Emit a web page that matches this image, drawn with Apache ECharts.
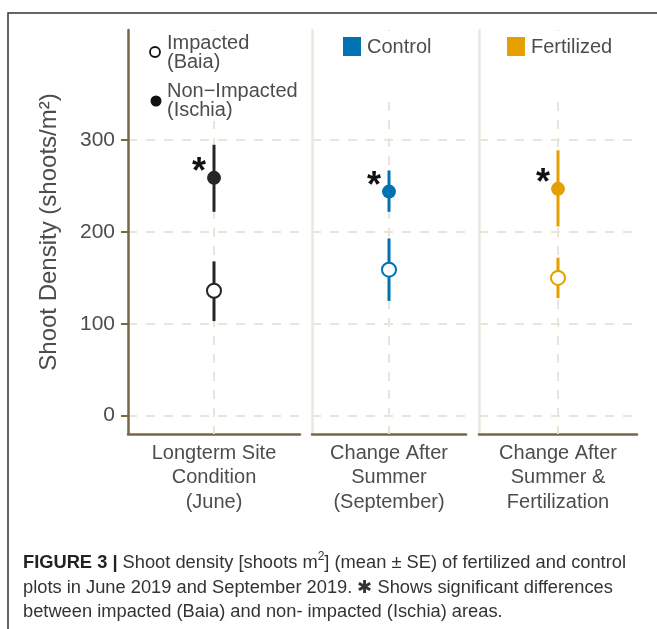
<!DOCTYPE html>
<html>
<head>
<meta charset="utf-8">
<script src="https://cdn.jsdelivr.net/npm/echarts@6/dist/echarts.min.js"></script>
<style>
html,body{margin:0;padding:0;background:#fff;}
#chart{width:657px;height:629px;}
</style>
</head>
<body>
<div id="chart"></div>
<script>
// ---- data ----
const categories = ['Longterm Site\nCondition\n(June)', 'Change After\nSummer\n(September)', 'Change After\nSummer &\nFertilization'];
const panelColors = ['#262626', '#0072B2', '#E69F00'];
const impactedMean = [136, 159, 150];
const impactedLow = [103, 125, 128];
const impactedHigh = [168, 193, 172];
const nonImpactedMean = [259, 244, 247];
const nonImpactedLow = [222, 222, 206];
const nonImpactedHigh = [295, 267, 289];
const significant = ['*', '*', '*'];
const yTicks = [0, 100, 200, 300];
const yMin = -20, yMax = 420;

const AXIS = '#7B6549';
const GRID = '#EDE4D9';
const TXT = '#4D4D4D';
const FONT = '"Liberation Sans", Arial, sans-serif';

const gridBoxes = [
  {left: 128, right: 657 - 300},
  {left: 312, right: 657 - 466},
  {left: 479, right: 657 - 637}
];

const grids = [], xAxes = [], yAxes = [], series = [];
gridBoxes.forEach((g, i) => {
  grids.push({left: g.left, right: g.right, top: 30, bottom: 629 - 434, containLabel: false});
  xAxes.push({
    type: 'category', gridIndex: i, data: [categories[i]],
    axisLine: {onZero: false, lineStyle: {color: AXIS, width: 2.5}},
    axisTick: {alignWithLabel: true, length: 7, lineStyle: {color: AXIS, width: 2}},
    axisLabel: {color: TXT, fontSize: 20, lineHeight: 24.5, margin: 7, fontFamily: FONT},
    splitLine: {show: false}
  });
  yAxes.push({
    type: 'value', gridIndex: i, min: yMin, max: yMax,
    name: i === 0 ? 'Shoot Density (shoots/m²)' : '',
    nameLocation: 'middle', nameGap: 67, nameRotate: 90,
    nameTextStyle: {color: TXT, fontSize: 24, fontFamily: FONT},
    axisLine: {show: true, lineStyle: {color: i === 0 ? AXIS : '#EEE7DE', width: 2.5}},
    axisTick: {show: i === 0, length: 7, customValues: yTicks, lineStyle: {color: AXIS, width: 2}},
    axisLabel: {show: i === 0, customValues: yTicks, color: TXT, fontSize: 21, margin: 13, fontFamily: FONT},
    splitLine: {show: true, lineStyle: {color: GRID, width: 2, type: [9, 9]}}
  });
  // vertical dashed gridline at category centre
  series.push({
    type: 'custom', xAxisIndex: i, yAxisIndex: i, z: 1, silent: true,
    data: [[0]],
    renderItem: (params, api) => {
      const top = api.coord([0, yMax]);
      const bot = api.coord([0, yMin]);
      return {type: 'line', shape: {x1: top[0], y1: top[1], x2: bot[0], y2: bot[1]},
        style: {stroke: GRID, lineWidth: 2, lineDash: [9, 9]}};
    }
  });
  // error bars
  series.push({
    type: 'custom', xAxisIndex: i, yAxisIndex: i, z: 20, silent: true,
    data: [[0, impactedLow[i], impactedHigh[i]], [0, nonImpactedLow[i], nonImpactedHigh[i]]],
    renderItem: (params, api) => {
      const lo = api.coord([api.value(0), api.value(1)]);
      const hi = api.coord([api.value(0), api.value(2)]);
      return {type: 'line', shape: {x1: lo[0], y1: lo[1], x2: hi[0], y2: hi[1]},
        style: {stroke: panelColors[i], lineWidth: 3}};
    }
  });
  // impacted (open)
  series.push({
    type: 'scatter', xAxisIndex: i, yAxisIndex: i, z: 21, silent: true,
    data: [[0, impactedMean[i]]], symbol: 'circle', symbolSize: 14,
    itemStyle: {color: '#fff', borderColor: panelColors[i], borderWidth: 2, opacity: 1}
  });
  // non-impacted (filled) + significance asterisk
  series.push({
    type: 'scatter', xAxisIndex: i, yAxisIndex: i, z: 22, silent: true,
    data: [[0, nonImpactedMean[i]]], symbol: 'circle', symbolSize: 14,
    itemStyle: {color: panelColors[i], opacity: 1},
    label: {show: true, position: 'left', distance: 1, offset: [0, -5],
      formatter: () => significant[i], fontSize: 36, fontWeight: 'bold', color: '#111', fontFamily: FONT}
  });
});

const legendText = {fill: '#4D4D4D', fontSize: 20, fontFamily: FONT};
const graphic = [
  // outer frame
  {type: 'polyline', shape: {points: [[8, 629], [8, 13], [657, 13]]}, style: {stroke: '#333', lineWidth: 1.5, fill: null}, z: 50},
  // panel legends backgrounds
  {type: 'rect', shape: {x: 140, y: 31, width: 158, height: 90}, style: {fill: '#fff'}, z: 10},
  {type: 'rect', shape: {x: 320, y: 31, width: 140, height: 62}, style: {fill: '#fff'}, z: 10},
  {type: 'rect', shape: {x: 487, y: 31, width: 145, height: 62}, style: {fill: '#fff'}, z: 10},
  {type: 'circle', shape: {cx: 155, cy: 52, r: 5}, style: {fill: '#fff', stroke: '#111', lineWidth: 1.8}, z: 11},
  {type: 'text', x: 167, y: 53, style: Object.assign({text: 'Impacted\n(Baia)', lineHeight: 19, verticalAlign: 'middle'}, legendText), z: 11},
  {type: 'circle', shape: {cx: 156, cy: 101, r: 5.5}, style: {fill: '#111'}, z: 11},
  {type: 'text', x: 167, y: 101, style: Object.assign({text: 'Non−Impacted\n(Ischia)', lineHeight: 19, verticalAlign: 'middle'}, legendText), z: 11},
  {type: 'rect', shape: {x: 343, y: 37, width: 18, height: 19}, style: {fill: panelColors[1]}, z: 11},
  {type: 'text', x: 367, y: 47, style: Object.assign({text: 'Control', verticalAlign: 'middle'}, legendText), z: 11},
  {type: 'rect', shape: {x: 507, y: 37, width: 18, height: 19}, style: {fill: panelColors[2]}, z: 11},
  {type: 'text', x: 531, y: 47, style: Object.assign({text: 'Fertilized', verticalAlign: 'middle'}, legendText), z: 11},
  // caption
  {type: 'text', x: 23, y: 551, z: 11, style: {
    text: '{b|FIGURE 3 |} Shoot density [shoots m{s|2}] (mean ± SE) of fertilized and control\nplots in June 2019 and September 2019. ✱ Shows significant differences\nbetween impacted (Baia) and non- impacted (Ischia) areas.',
    fill: '#333', fontSize: 18.3, fontFamily: FONT, lineHeight: 24.5, verticalAlign: 'top',
    rich: {b: {fontWeight: 'bold', fontSize: 18.3, fill: '#222', fontFamily: FONT}, s: {fontSize: 12, verticalAlign: 'top', padding: [0, 0, 8, 0], fill: '#333', fontFamily: FONT}}
  }}
];

const chart = echarts.init(document.getElementById('chart'));
chart.setOption({
  animation: false,
  backgroundColor: '#fff',
  grid: grids, xAxis: xAxes, yAxis: yAxes, series: series, graphic: graphic
});
</script>
</body>
</html>
